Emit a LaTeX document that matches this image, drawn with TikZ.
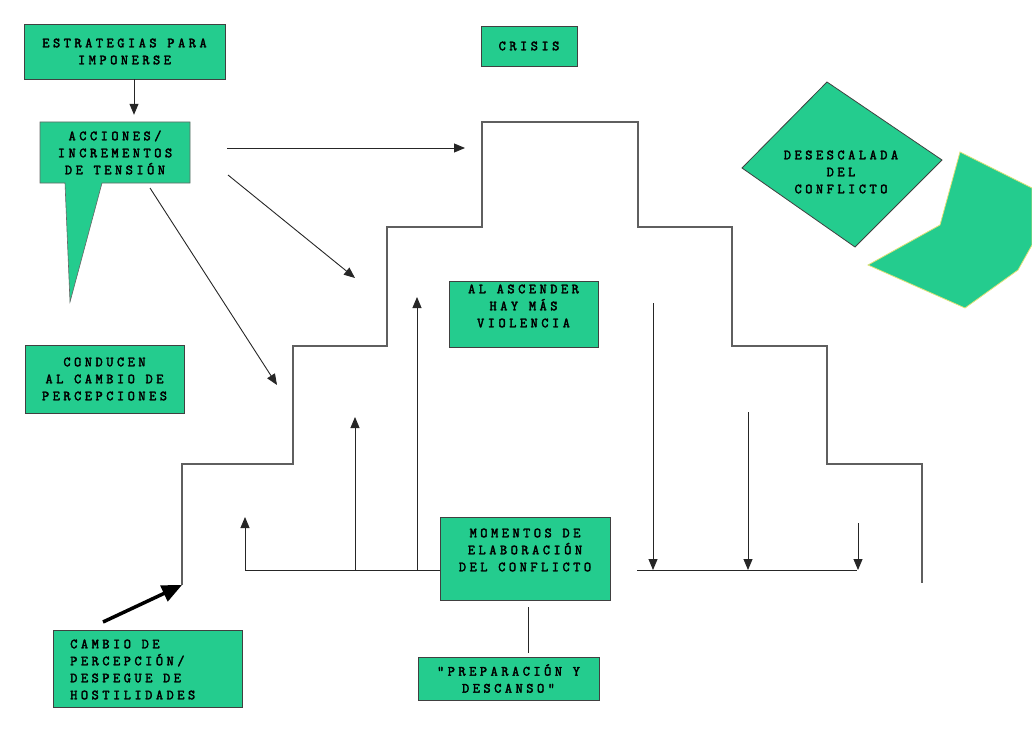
\documentclass[tikz,border=0pt]{standalone}
\usepackage{fontspec}
\newfontfamily\boxfont{Latin Modern Mono}[LetterSpace=25, FakeBold=2.6]
\usetikzlibrary{arrows.meta}
\definecolor{boxgreen}{RGB}{36,204,142}
\definecolor{stairgray}{RGB}{95,95,95}
\definecolor{paleyellow}{RGB}{225,225,120}
\tikzset{
  greenbox/.style={draw=black!75, fill=boxgreen, line width=0.8pt, align=center, inner sep=0pt,
    font=\boxfont\fontsize{14}{17}\selectfont},
  boxtext/.style={align=center, inner sep=0pt, font=\boxfont\fontsize{14}{17}\selectfont},
  arr/.style={-{Triangle[length=11pt,width=9pt]}, line width=0.9pt, draw=black!85},
  thickarr/.style={-{Triangle[length=20pt,width=17pt]}, line width=3.5pt, draw=black},
  stair/.style={draw=stairgray, line width=1.3pt},
}

\begin{document}
\begin{tikzpicture}[x=1pt,y=-1pt]
  \useasboundingbox (0,0) rectangle (1032,738);

  % Boxes on the left
  \node[greenbox, minimum width=201pt, minimum height=55pt] (estrategias) at (124.5,51.5) {ESTRATEGIAS PARA\\IMPONERSE};
  \node[greenbox, minimum width=96pt, minimum height=40pt] (crisis) at (529,46) {CRISIS};

  % Callout with its tail
  \draw[draw=black!60, fill=boxgreen, line width=0.6pt] (40,122) -- (190,122) -- (190,183) -- (102,183)
    -- (70,302) -- (65,183) -- (40,183) -- cycle;
  \node[boxtext, minimum width=150pt, minimum height=61pt] (acciones) at (115,152.5) {ACCIONES/\\INCREMENTOS\\DE TENSIÓN};

  \node[greenbox, minimum width=159pt, minimum height=68pt] (conducen) at (104.5,379) {CONDUCEN\\AL CAMBIO DE\\PERCEPCIONES};
  \node[greenbox, minimum width=189pt, minimum height=77pt] (cambio) at (147.5,668.5) {};
  \node[boxtext, align=left, anchor=west] (cambiotext) at (70,669.5) {CAMBIO DE\\PERCEPCIÓN/\\DESPEGUE DE\\HOSTILIDADES};

  % Boxes in the middle
  \node[greenbox, minimum width=149pt, minimum height=66pt] (ascender) at (523.5,314) {};
  \node[boxtext] (ascendertext) at (523.5,306) {AL ASCENDER\\HAY MÁS\\VIOLENCIA};
  \node[greenbox, minimum width=170pt, minimum height=83pt] (momentos) at (525,558.5) {};
  \node[boxtext] (momentostext) at (525,550) {MOMENTOS DE\\ELABORACIÓN\\DEL CONFLICTO};
  \node[greenbox, minimum width=181pt, minimum height=43pt] (preparacion) at (508.5,678.5) {"PREPARACIÓN Y\\DESCANSO"};

  % Diamond and folded shape on the right
  \draw[draw=black!75, fill=boxgreen, line width=0.8pt] (827,82) -- (942,160) -- (855,247) -- (742,168) -- cycle;
  \node[boxtext] (desescalada) at (841,172) {DESESCALADA\\DEL\\CONFLICTO};
  \fill[boxgreen, draw=paleyellow, line width=0.8pt] (960,152) -- (1032,188) -- (1032,245) -- (1018,270)
    -- (965,308) -- (868,265) -- (940,225) -- cycle;

  % The stairs
  \draw[stair] (182,585) -- (182,464) -- (293,464) -- (293,346) -- (387,346) -- (387,227) -- (482,227)
    -- (482,122) -- (638,122) -- (638,227) -- (732,227) -- (732,346) -- (827,346) -- (827,464)
    -- (922,464) -- (922,583);

  % Arrows out of the callout
  \coordinate (from1) at (227,148);
  \coordinate (from2) at (228,175);
  \coordinate (from3) at (150,188);
  \coordinate (toCrisis) at (465,148);
  \coordinate (toStepThree) at (355,278);
  \coordinate (toStepTwo) at (277,385);
  \draw[arr] ([xshift=9.5pt]estrategias.south) -- ([xshift=19pt,yshift=7pt]acciones.north);
  \draw[arr] (from1) -- (toCrisis);
  \draw[arr] (from2) -- (toStepThree);
  \draw[arr] (from3) -- (toStepTwo);

  % Thick arrow to the foot of the stairs
  \coordinate (thickstart) at (103,622);
  \coordinate (stairfoot) at (182,585);
  \draw[thickarr] (thickstart) -- (stairfoot);

  % Going up
  \coordinate (upbase) at (245,570);
  \draw[line width=0.9pt, draw=black!85] (upbase) -- (momentos.west |- upbase);
  \foreach \x/\y in {245/517, 355/417, 417/297}
    \draw[arr] (\x,570) -- (\x,\y);

  % Going down
  \draw[line width=0.9pt, draw=black!85] (637,570) -- (857,570);
  \foreach \x/\y in {653/303, 748/412, 858/523}
    \draw[arr] (\x,\y) -- (\x,570);

  % Line to the last box
  \coordinate (linex) at (528,0);
  \draw[line width=0.9pt, draw=black!85, shorten <=7pt, shorten >=4pt] (momentos.south -| linex) -- (preparacion.north -| linex);
\end{tikzpicture}
\end{document}
